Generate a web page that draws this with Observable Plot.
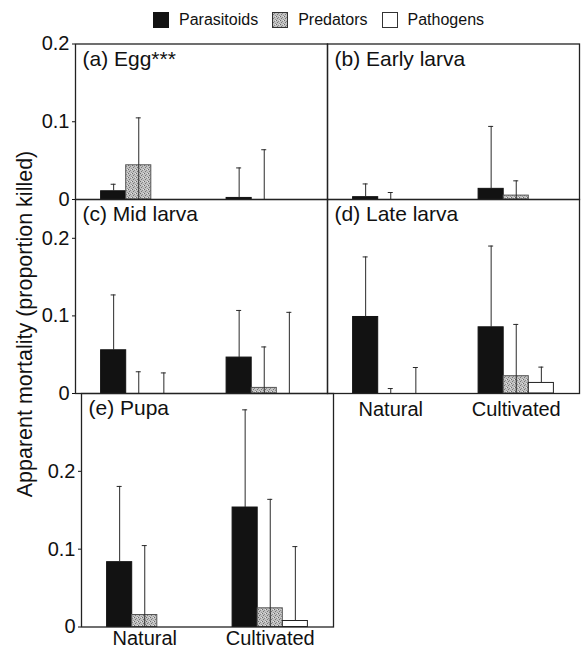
<!DOCTYPE html>
<html><head><meta charset="utf-8">
<script src="https://cdn.jsdelivr.net/npm/d3@7"></script>
<script src="https://cdn.jsdelivr.net/npm/@observablehq/plot@0.6"></script>
<style>
html,body{margin:0;padding:0;background:#fff;}
#chart{position:relative;width:583px;height:650px;overflow:hidden;font-family:"Liberation Sans",Arial,Helvetica,sans-serif;color:#111;}
#chart > svg.plotsvg{position:absolute;}
.legend{position:absolute;top:11px;left:153px;display:flex;align-items:center;font-size:16px;white-space:nowrap;}
.legend .item{display:flex;align-items:center;margin-right:14px;}
.legend svg{display:block;margin-right:10px;}
.ytitle{position:absolute;left:25px;top:324px;transform:translate(-50%,-50%) rotate(-90deg);font-size:21.5px;white-space:nowrap;}
</style></head><body>
<svg width="0" height="0" style="position:absolute">
  <defs>
    <pattern id="stipple" width="4" height="4" patternUnits="userSpaceOnUse">
      <rect width="4" height="4" fill="#c2c2c2"/>
      <rect x="0" y="0" width="1" height="1" fill="#6a6a6a"/>
      <rect x="2" y="1" width="1" height="1" fill="#8a8a8a"/>
      <rect x="1" y="2" width="1" height="1" fill="#777"/>
      <rect x="3" y="3" width="1" height="1" fill="#959595"/>
      <rect x="3" y="0" width="1" height="1" fill="#e6e6e6"/>
    </pattern>
  </defs>
</svg>
<div id="chart"></div>
<script>
// ---------- data ----------
const stages = ["(a) Egg***", "(b) Early larva", "(c) Mid larva", "(d) Late larva", "(e) Pupa"];
const sites = ["Natural", "Cultivated"];
const agents = ["Parasitoids", "Predators", "Pathogens"];
const yTicks = [0, 0.1, 0.2];
const yTitle = "Apparent mortality (proportion killed)";
// per stage: [Natural, Cultivated]
const parasitoidMean  = [[0.0106, 0.002], [0.003, 0.0137], [0.0557, 0.0463], [0.0986, 0.0853], [0.0833, 0.1535]];
const parasitoidUpper = [[0.0196, 0.0406], [0.020, 0.094], [0.127, 0.107], [0.176, 0.190], [0.1806, 0.279]];
const predatorMean    = [[0.044, 0], [0, 0.005], [0, 0.0072], [0, 0.0223], [0.0154, 0.024]];
const predatorUpper   = [[0.105, 0.064], [0.009, 0.024], [0.028, 0.060], [0.0064, 0.089], [0.1046, 0.164]];
const pathogenMean    = [[0, 0], [0, 0], [0, 0], [0, 0.0136], [0, 0.0077]];
const pathogenUpper   = [[0, 0], [0, 0], [0.0265, 0.1046], [0.0335, 0.034], [0, 0.1033]];

const meanBy = {Parasitoids: parasitoidMean, Predators: predatorMean, Pathogens: pathogenMean};
const upperBy = {Parasitoids: parasitoidUpper, Predators: predatorUpper, Pathogens: pathogenUpper};
const rows = [];
stages.forEach((stage, s) => sites.forEach((site, j) => agents.forEach(agent => {
  rows.push({stage, site, agent, mean: meanBy[agent][s][j], upper: upperBy[agent][s][j]});
})));

// ---------- styles ----------
const agentStyle = {
  Parasitoids: {fill: "#121212", stroke: "#121212"},
  Predators: {fill: "url(#stipple)", stroke: "#555"},
  Pathogens: {fill: "#ffffff", stroke: "#222"}
};
const W = 252;                       // plot-area width of a panel
const padInner = 0.8, padOuter = 0.404;
const step = W / (sites.length - padInner + 2 * padOuter);
const bw = step * (1 - padInner);    // bar width

const layout = [
  {left: 0,   top: 33,    marginLeft: 75, marginTop: 10.5, plotH: 155.5, marginBottom: 12, yMax: 0.2,  yAxis: true,  xAxis: false, pad: 8},
  {left: 327, top: 33,    marginLeft: 0,  marginTop: 10.5, plotH: 155.5, marginBottom: 12, yMax: 0.2,  yAxis: false, xAxis: false, pad: 8},
  {left: 0,   top: 198.5, marginLeft: 75, marginTop: 0,    plotH: 194,   marginBottom: 12, yMax: 0.25, yAxis: true,  xAxis: false, pad: 8},
  {left: 327, top: 198.5, marginLeft: 0,  marginTop: 0,    plotH: 194,   marginBottom: 30, yMax: 0.25, yAxis: false, xAxis: true,  pad: 8},
  {left: 6,   top: 392.5, marginLeft: 75, marginTop: 0,    plotH: 233.5, marginBottom: 23, yMax: 0.3,  yAxis: true,  xAxis: true,  pad: 4}
];

const chart = document.getElementById("chart");

stages.forEach((stage, s) => {
  const L = layout[s];
  const data = rows.filter(d => d.stage === stage);
  const marks = [];
  agents.forEach((agent, i) => {
    const dx = (i - 1) * bw;
    const st = agentStyle[agent];
    marks.push(Plot.barY(data.filter(d => d.agent === agent && d.mean > 0), {
      x: "site", y: "mean", dx, fill: st.fill, stroke: st.stroke, strokeWidth: 1
    }));
  });
  agents.forEach((agent, i) => {
    const dx = (i - 1) * bw;
    const err = data.filter(d => d.agent === agent && d.upper > d.mean);
    marks.push(Plot.ruleX(err, {x: "site", y1: agent === "Predators" ? 0 : "mean", y2: "upper", dx,
      stroke: "#2a2a2a", strokeWidth: 1}));
    marks.push(Plot.tickY(err, {x: "site", y: "upper", dx, stroke: "#2a2a2a", strokeWidth: 1,
      insetLeft: (bw - 5) / 2, insetRight: (bw - 5) / 2}));
  });
  marks.push(Plot.text([stage], {frameAnchor: "top-left", text: d => d, dx: 7, dy: 7,
    textAnchor: "start", lineAnchor: "top", fontSize: 21, fill: "#111"}));
  marks.push(Plot.frame({stroke: "#222", strokeWidth: 1.3}));

  const svg = Plot.plot({
    width: L.marginLeft + W + 2,
    height: L.marginTop + L.plotH + L.marginBottom,
    marginLeft: L.marginLeft, marginRight: 2, marginTop: L.marginTop, marginBottom: L.marginBottom,
    style: {background: "transparent", overflow: "visible", fontSize: "20px",
      fontFamily: '"Liberation Sans", Arial, Helvetica, sans-serif', color: "#111"},
    x: {domain: sites, paddingInner: padInner, paddingOuter: padOuter, round: false,
      axis: L.xAxis ? "bottom" : null, tickSize: 0, tickPadding: L.pad, label: null},
    y: {domain: [0, L.yMax], ticks: yTicks, tickFormat: d => d === 0 ? "0" : d3.format(".1f")(d),
      axis: L.yAxis ? "left" : null, tickSize: 3, tickPadding: 3, label: null},
    marks
  });
  svg.classList.add("plotsvg");
  svg.style.position = "absolute";
  svg.style.left = L.left + "px";
  svg.style.top = L.top + "px";
  svg.style.maxWidth = "none";
  chart.appendChild(svg);
});

// y title
const yt = document.createElement("div");
yt.className = "ytitle";
yt.textContent = yTitle;
chart.appendChild(yt);

// legend
const legend = document.createElement("div");
legend.className = "legend";
agents.forEach(agent => {
  const st = agentStyle[agent];
  const item = document.createElement("div");
  item.className = "item";
  item.innerHTML = `<svg width="16" height="16"><rect x="0.5" y="0.5" width="15" height="15" fill="${st.fill}" stroke="${agent === "Parasitoids" ? st.fill : "#333"}" stroke-width="1"/></svg><span>${agent}</span>`;
  legend.appendChild(item);
});
chart.appendChild(legend);
</script>
</body></html>
